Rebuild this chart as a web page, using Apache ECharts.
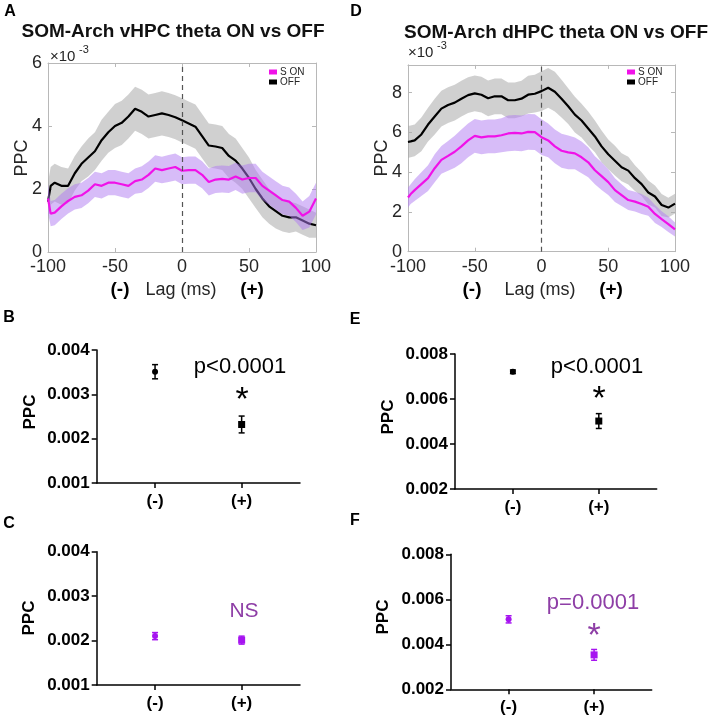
<!DOCTYPE html>
<html><head><meta charset="utf-8">
<script src="https://cdn.jsdelivr.net/npm/echarts@6/dist/echarts.min.js"></script>
<style>html,body{margin:0;padding:0;background:#fff}#c{width:710px;height:716px}</style>
</head><body><div id="c"></div><script>
// Lag axis (ms)
const lags = [-100,-98,-95,-90,-85,-80,-75,-70,-65,-60,-55,-50,-45,-40,-35,-30,-25,-20,-15,-10,-5,0,5,10,15,20,25,30,35,40,45,50,55,60,65,70,75,80,85,90,95,100];
// Panel A (vHPC), PPC x10^-3
const offA    = [1.6,2.1,2.2,2.1,2.1,2.5,2.8,3.0,3.2,3.55,3.8,4.0,4.1,4.3,4.55,4.45,4.3,4.35,4.4,4.35,4.28,4.18,4.08,3.98,3.68,3.38,3.35,3.3,3.05,2.9,2.65,2.35,2.0,1.7,1.45,1.3,1.15,1.1,1.1,1.0,0.9,0.85];
const offSemA = [0.6,0.6,0.6,0.6,0.55,0.55,0.55,0.6,0.6,0.65,0.65,0.7,0.7,0.7,0.7,0.7,0.7,0.7,0.7,0.7,0.7,0.7,0.7,0.7,0.7,0.7,0.7,0.7,0.7,0.7,0.65,0.65,0.6,0.6,0.55,0.55,0.5,0.5,0.45,0.45,0.45,0.4];
const onA     = [1.7,1.22,1.25,1.45,1.62,1.75,1.8,1.95,2.15,2.1,2.2,2.2,2.15,2.1,2.25,2.3,2.45,2.65,2.6,2.65,2.7,2.58,2.6,2.6,2.45,2.22,2.3,2.32,2.3,2.4,2.3,2.35,2.35,2.1,1.95,1.8,1.65,1.6,1.4,1.15,1.28,1.7];
const onSemA  = [0.45,0.4,0.4,0.4,0.4,0.4,0.4,0.4,0.4,0.4,0.4,0.4,0.4,0.4,0.4,0.42,0.42,0.42,0.42,0.43,0.43,0.43,0.43,0.43,0.43,0.43,0.43,0.43,0.43,0.43,0.45,0.45,0.45,0.45,0.45,0.45,0.45,0.45,0.45,0.45,0.5,0.5];
// Panel D (dHPC), PPC x10^-3
const offD    = [5.52,5.55,5.6,5.9,6.4,6.8,7.2,7.38,7.5,7.7,7.88,7.97,7.9,7.72,7.82,7.82,7.62,7.62,7.7,7.9,7.95,8.08,8.25,8.05,7.7,7.32,6.9,6.6,6.2,5.8,5.3,4.9,4.58,4.25,4.08,3.7,3.4,2.98,2.78,2.35,2.22,2.42];
const offSemD = [0.8,0.8,0.8,0.85,0.85,0.9,0.9,0.9,0.9,0.9,0.9,0.9,0.9,0.9,0.9,0.9,0.9,0.9,0.9,0.95,0.95,1.0,1.0,1.0,0.95,0.9,0.9,0.85,0.85,0.8,0.8,0.75,0.75,0.7,0.7,0.65,0.6,0.6,0.55,0.55,0.5,0.5];
const onD     = [2.73,2.9,3.1,3.4,3.7,4.2,4.62,4.82,5.03,5.3,5.6,5.83,5.75,5.8,5.8,5.86,5.95,5.98,5.95,6.03,6.02,5.76,5.6,5.3,5.08,5.0,4.95,4.75,4.5,4.1,3.8,3.5,3.1,2.85,2.6,2.52,2.4,2.26,1.9,1.64,1.39,1.12];
const onSemD  = [0.5,0.5,0.55,0.6,0.65,0.7,0.7,0.75,0.8,0.85,0.85,0.85,0.85,0.85,0.85,0.85,0.9,0.9,0.9,0.9,0.9,0.9,0.85,0.85,0.85,0.85,0.8,0.8,0.75,0.7,0.7,0.65,0.6,0.55,0.5,0.5,0.5,0.45,0.45,0.4,0.4,0.35];
// Summary panels
const catLabels = ['(-)','(+)'];
const bMean = [0.00351,0.00232], bSem = [0.00016,0.00019];
const cMean = [0.00210,0.00201], cSem = [0.00008,0.00009];
const eMean = [0.00721,0.00502], eSem = [0.00008,0.00033];
const fMean = [0.00511,0.00353], fSem = [0.00016,0.00024];
const ticksA = [0,2,4,6], ticksD = [0,2,4,6,8];

const FF = 'Liberation Sans, Arial, sans-serif';
const MAG = '#f012e8', BAND_ON = 'rgba(176,122,242,0.5)', BAND_OFF = 'rgba(170,170,170,0.55)';
const PURP_PT = '#a614f0', PURP_TXT = '#8e3ea6';

const chart = echarts.init(document.getElementById('c'), null, {renderer:'canvas'});

function band(ai, mean, sem, color, z){
  return {type:'custom', xAxisIndex:ai, yAxisIndex:ai, z:z, silent:true, data:[[0,0]],
    renderItem:(p,api)=>{
      const pts=[];
      for(let i=0;i<lags.length;i++) pts.push(api.coord([lags[i], mean[i]+sem[i]]));
      for(let i=lags.length-1;i>=0;i--) pts.push(api.coord([lags[i], mean[i]-sem[i]]));
      return {type:'polygon', shape:{points:pts}, style:{fill:color}};
    }};
}
function line(ai, name, mean, color, z, mark){
  const s = {type:'line', name:name, xAxisIndex:ai, yAxisIndex:ai, z:z, showSymbol:false, symbol:'none',
    data: lags.map((l,i)=>[l, mean[i]]), lineStyle:{color:color, width:2.2}, itemStyle:{color:color}, silent:true, animation:false};
  if(mark) s.markLine = {silent:true, symbol:'none', label:{show:false}, lineStyle:{color:'#555', type:[5,4], width:1.2}, data:[{xAxis:0}], animation:false};
  return s;
}
function topAxes(gi, ymax, ticks){
  const ax = {color:'#b8b8b8'};
  const xs = [
    {gridIndex:gi, type:'value', min:-100, max:100, interval:50, axisLine:{onZero:false,lineStyle:ax}, axisTick:{inside:true,length:4,lineStyle:ax},
      axisLabel:{color:'#262626', fontSize:18, fontFamily:FF, margin:6}, splitLine:{show:false}},
    {gridIndex:gi, type:'value', position:'top', min:-100, max:100, interval:50, axisLine:{onZero:false,lineStyle:ax}, axisTick:{inside:true,length:4,lineStyle:ax},
      axisLabel:{show:false}, splitLine:{show:false}}];
  const ys = [
    {gridIndex:gi, type:'value', position:'left', min:0, max:ymax, interval:2, axisLine:{show:true,onZero:false,lineStyle:ax}, axisTick:{show:true,inside:true,length:4,lineStyle:ax},
      axisLabel:{color:'#262626', fontSize:18, fontFamily:FF, margin:6, showMaxLabel: ymax%2===0, formatter:v=>ticks.includes(v)?String(v):''}, splitLine:{show:false}},
    {gridIndex:gi, type:'value', position:'right', min:0, max:ymax, interval:2, axisLine:{show:true,onZero:false,lineStyle:ax}, axisTick:{show:true,inside:true,length:4,lineStyle:ax},
      axisLabel:{show:false}, splitLine:{show:false}}];
  return {xs, ys};
}
function botAxes(gi, ymin, ymax, step){
  const ax = {color:'#000', width:1.5};
  const x = {gridIndex:gi, type:'value', min:-0.674, max:1.674, axisLine:{onZero:false,lineStyle:ax},
    axisTick:{length:5, lineStyle:ax, customValues:[0,1]},
    axisLabel:{customValues:[0,1], formatter:v=>catLabels[Math.round(v)], color:'#000', fontSize:17, fontWeight:'bold', fontFamily:FF, margin:10},
    splitLine:{show:false}};
  const y = {gridIndex:gi, type:'value', position:'left', min:ymin, max:ymax, interval:step, axisLine:{show:true,onZero:false,lineStyle:ax},
    axisTick:{show:true,length:5,lineStyle:ax},
    axisLabel:{formatter:v=>v.toFixed(3), color:'#000', fontSize:17, fontWeight:'bold', fontFamily:FF, margin:7},
    splitLine:{show:false}};
  return {x, y};
}
function errSeries(ai, mean, sem, color){
  return {type:'custom', xAxisIndex:ai, yAxisIndex:ai, z:3, silent:true,
    dimensions:['x','m','s'], encode:{x:0, y:1},
    data: mean.map((m,i)=>[i, m, sem[i]]),
    renderItem:(p,api)=>{
      const x=api.value(0), m=api.value(1), s=api.value(2);
      const t=api.coord([x,m+s]), b=api.coord([x,m-s]); const w=3;
      const st={stroke:color, lineWidth:1.5};
      return {type:'group', children:[
        {type:'line', shape:{x1:t[0],y1:t[1],x2:b[0],y2:b[1]}, style:st},
        {type:'line', shape:{x1:t[0]-w,y1:t[1],x2:t[0]+w,y2:t[1]}, style:st},
        {type:'line', shape:{x1:b[0]-w,y1:b[1],x2:b[0]+w,y2:b[1]}, style:st}]};
    }};
}
function ptSeries(ai, mean, color){
  return {type:'scatter', xAxisIndex:ai, yAxisIndex:ai, z:4, silent:true,
    data: mean.map((m,i)=>({value:[i,m], symbol: i===0?'circle':'rect', symbolSize: i===0?6:7})),
    itemStyle:{color:color, opacity:1}};
}

const A = topAxes(0, 6, ticksA), D = topAxes(1, 9.4, ticksD);
const Bx = botAxes(2, 0.001, 0.004, 0.001), Cx = botAxes(3, 0.001, 0.004, 0.001);
const Ex = botAxes(4, 0.002, 0.008, 0.002), Fx = botAxes(5, 0.002, 0.008, 0.002);

// axis index 0: A, 2: D, 4: B, 5: C, 6: E, 7: F
const xAxis = [A.xs[0], A.xs[1], D.xs[0], D.xs[1], Bx.x, Cx.x, Ex.x, Fx.x];
const yAxis = [A.ys[0], A.ys[1], D.ys[0], D.ys[1], Bx.y, Cx.y, Ex.y, Fx.y];

function T(x,y,text,o){
  o=o||{};
  return {type:'text', x:x, y:y, rotation:o.rot||0, silent:true, z:10,
    style:{text:text, fill:o.color||'#000', fontSize:o.size||16, fontWeight:o.bold?'bold':'normal', fontFamily:FF,
      textAlign:o.align||'center', textVerticalAlign:'middle', align:o.align||'center', verticalAlign:'middle'}};
}

const option = {
  animation:false,
  backgroundColor:'#fff',
  grid:[
    {left:48, top:63, width:268, height:189, outerBoundsMode:'none'},
    {left:408, top:64.9, width:267, height:186.8, outerBoundsMode:'none'},
    {left:96.7, top:350, width:203.3, height:133, outerBoundsMode:'none'},
    {left:96.7, top:551.7, width:203.3, height:133.3, outerBoundsMode:'none'},
    {left:455, top:354, width:201.7, height:135, outerBoundsMode:'none'},
    {left:451, top:554.3, width:200.7, height:135, outerBoundsMode:'none'}
  ],
  xAxis: xAxis, yAxis: yAxis,
  legend:[
    {orient:'vertical', left:269, top:67, itemWidth:8, itemHeight:5, itemGap:0, padding:0, icon:'rect',
      textStyle:{fontSize:10, fontFamily:FF, color:'#262626', padding:[0,0,0,-2]}, data:['S ON','OFF'], selectedMode:false},
    {orient:'vertical', left:627, top:67, itemWidth:8, itemHeight:5, itemGap:0, padding:0, icon:'rect',
      textStyle:{fontSize:10, fontFamily:FF, color:'#262626', padding:[0,0,0,-2]}, data:['S ON','OFF'], selectedMode:false}
  ],
  series:[
    band(0, offA, offSemA, BAND_OFF, 1),
    line(0, 'OFF', offA, '#000', 2, true),
    band(0, onA, onSemA, BAND_ON, 3),
    line(0, 'S ON', onA, MAG, 4, false),
    band(2, offD, offSemD, BAND_OFF, 1),
    line(2, 'OFF', offD, '#000', 2, true),
    band(2, onD, onSemD, BAND_ON, 3),
    line(2, 'S ON', onD, MAG, 4, false),
    errSeries(4, bMean, bSem, '#000'), ptSeries(4, bMean, '#000'),
    errSeries(5, cMean, cSem, PURP_PT), ptSeries(5, cMean, PURP_PT),
    errSeries(6, eMean, eSem, '#000'), ptSeries(6, eMean, '#000'),
    errSeries(7, fMean, fSem, PURP_PT), ptSeries(7, fMean, PURP_PT)
  ],
  graphic:[
    T(10,12,'A',{bold:true,size:16}), T(356,12,'D',{bold:true,size:16}),
    T(9,318,'B',{bold:true,size:16}), T(355,320,'E',{bold:true,size:16}),
    T(9,524,'C',{bold:true,size:16}), T(355,521,'F',{bold:true,size:16}),
    T(173,32,'SOM-Arch vHPC theta ON vs OFF',{bold:true,size:19,color:'#111'}),
    T(556,33,'SOM-Arch dHPC theta ON vs OFF',{bold:true,size:19,color:'#111'}),
    T(50,57,'×10',{align:'left',size:15,color:'#262626'}), T(79,50,'-3',{align:'left',size:11,color:'#262626'}),
    T(408,53,'×10',{align:'left',size:15,color:'#262626'}), T(437,46,'-3',{align:'left',size:11,color:'#262626'}),
    T(22,158,'PPC',{rot:Math.PI/2,size:18,color:'#262626'}), T(382,158,'PPC',{rot:Math.PI/2,size:18,color:'#262626'}),
    T(120,290,'(-)',{bold:true,size:19}), T(181,290,'Lag (ms)',{size:18,color:'#262626'}), T(252,290,'(+)',{bold:true,size:19}),
    T(472,290,'(-)',{bold:true,size:19}), T(540,290,'Lag (ms)',{size:18,color:'#262626'}), T(611,290,'(+)',{bold:true,size:19}),
    T(30,412,'PPC',{rot:Math.PI/2,bold:true,size:17}), T(29,618,'PPC',{rot:Math.PI/2,bold:true,size:17}),
    T(388,417,'PPC',{rot:Math.PI/2,bold:true,size:17}), T(383,617,'PPC',{rot:Math.PI/2,bold:true,size:17}),
    T(240,367,'p<0.0001',{size:22}), T(242,401,'*',{size:34}),
    T(597,367,'p<0.0001',{size:22}), T(599,400,'*',{size:34}),
    T(244,611,'NS',{size:21,color:PURP_TXT}),
    T(593,603,'p=0.0001',{size:22,color:PURP_TXT}), T(594,637,'*',{size:34,color:PURP_TXT})
  ]
};
chart.setOption(option);
</script></body></html>
